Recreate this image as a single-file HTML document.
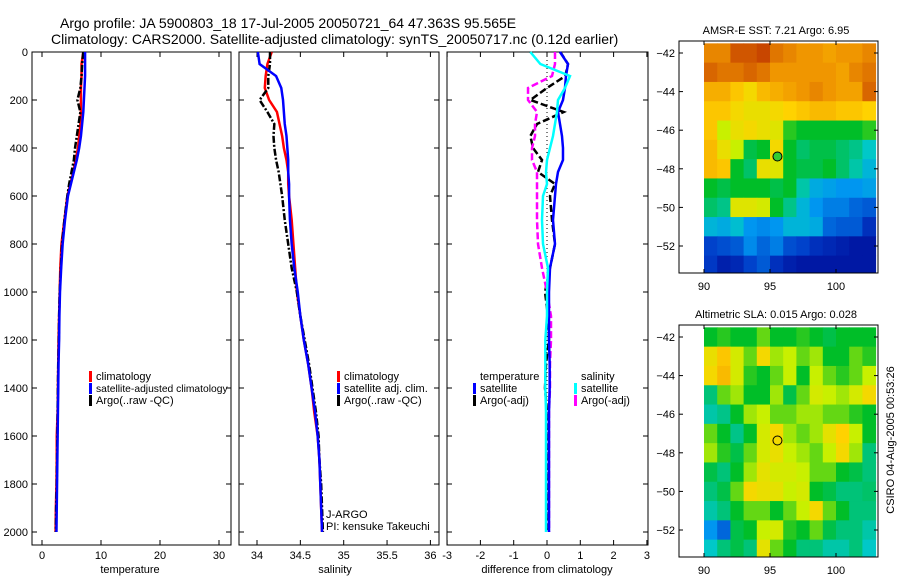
<!DOCTYPE html>
<html><head><meta charset="utf-8"><style>
body{margin:0;background:#fff;}
svg{display:block;font-family:"Liberation Sans",sans-serif;}
text{fill:#000;}
</style></head><body>
<svg id="fig" width="900" height="580" viewBox="0 0 900 580" xmlns="http://www.w3.org/2000/svg">
<text x="60" y="28" font-size="14">Argo profile: JA 5900803_18 17-Jul-2005 20050721_64 47.363S 95.565E</text>
<text x="51" y="44" font-size="14">Climatology: CARS2000. Satellite-adjusted climatology: synTS_20050717.nc (0.12d earlier)</text>
<g id="layer"></g>
<text transform="translate(894,440) rotate(-90)" text-anchor="middle" font-size="11">CSIRO 04-Aug-2005 00:53:26</text>
</svg>
<script>
const depths=[0,50,100,150,200,250,300,350,400,450,500,550,600,700,800,900,1000,1100,1200,1300,1400,1500,1600,1700,1800,1900,2000];
const tempClim=[7.0,6.7,6.7,6.6,6.6,6.6,6.5,6.3,6.1,5.7,5.3,4.8,4.3,3.8,3.3,3.1,3.0,2.9,2.8,2.75,2.7,2.65,2.5,2.5,2.45,2.35,2.3];
const tempSat=[7.3,7.3,7.3,7.2,7.1,7.0,6.8,6.6,6.3,5.9,5.4,4.9,4.4,3.9,3.5,3.25,3.05,2.95,2.9,2.8,2.75,2.7,2.65,2.6,2.55,2.5,2.45];
const tempArgo=[7.0,6.8,6.7,6.5,6.0,6.5,6.2,5.9,5.6,5.4,5.0,4.6,4.3,3.8,3.4,3.2,3.0,2.9,2.85,2.75,2.7,2.65,2.6,2.55,2.5,2.4,2.35];
const salClim=[34.17,34.12,34.1,34.09,34.14,34.23,34.26,34.29,34.31,34.34,34.36,34.36,34.37,34.40,34.42,34.44,34.46,34.50,34.54,34.59,34.63,34.66,34.70,34.72,34.73,34.74,34.75];
const salSat=[34.01,34.03,34.22,34.28,34.3,34.31,34.32,34.34,34.35,34.36,34.36,34.37,34.37,34.38,34.40,34.43,34.47,34.50,34.54,34.59,34.63,34.67,34.70,34.72,34.73,34.74,34.75];
const salArgo=[34.15,34.15,34.13,34.13,34.03,34.12,34.2,34.19,34.2,34.22,34.25,34.27,34.29,34.32,34.36,34.40,34.46,34.5,34.55,34.6,34.64,34.68,34.71,34.72,34.74,34.75,34.76];
const diffTempSat=[0.39,0.63,0.57,0.54,0.48,0.33,0.39,0.45,0.48,0.48,0.33,0.27,0.24,0.18,0.24,0.09,0.06,0.06,0.06,0.08,0.08,0.06,0.06,0.06,0.06,0.06,0.06];
const diffTempArgo=[0.4,0.63,0.55,0.0,-0.5,0.5,-0.3,-0.5,-0.42,-0.15,-0.27,0.24,0.09,0.15,0.24,0.09,-0.06,0.03,0.06,-0.03,-0.06,0,0,0,0,0,0];
const diffSalSat=[-0.5,-0.2,0.69,0.54,0.33,0.3,0.24,0.18,0.09,0,-0.03,0,-0.12,-0.15,-0.12,0.03,0.0,0.0,-0.05,-0.05,-0.05,-0.03,-0.03,-0.03,-0.03,-0.03,-0.03];
const diffSalArgo=[0.24,0.24,0.15,-0.57,-0.57,-0.3,-0.36,-0.36,-0.45,-0.45,-0.3,-0.3,-0.3,-0.3,-0.27,-0.15,0.0,0.12,0.12,0.09,0.09,0.06,0.06,0.06,0.06,0.06,0.06];
const depthTicks=[0,200,400,600,800,1000,1200,1400,1600,1800,2000];
const tempTicks=[0,10,20,30];
const salTicks=[34,34.5,35,35.5,36];
const diffTicks=[-3,-2,-1,0,1,2,3];
const lonTicks=[90,95,100];
const latTicks=[-42,-44,-46,-48,-50,-52];
const mapLons=[90,91,92,93,94,95,96,97,98,99,100,101,102];
const mapLats=[-41.5,-42.5,-43.5,-44.5,-45.5,-46.5,-47.5,-48.5,-49.5,-50.5,-51.5,-52.5];
const sstGrid=[
[.82,.82,.88,.88,.9,.84,.82,.8,.8,.78,.8,.8,.82],
[.86,.84,.84,.86,.84,.8,.8,.8,.8,.8,.78,.82,.84],
[.76,.76,.72,.68,.74,.76,.78,.8,.82,.8,.78,.78,.86],
[.72,.72,.68,.66,.66,.68,.7,.72,.74,.74,.72,.72,.7],
[.72,.6,.66,.68,.66,.64,.52,.5,.5,.5,.5,.5,.52],
[.74,.66,.6,.48,.5,.68,.5,.46,.48,.48,.46,.44,.4],
[.74,.72,.5,.46,.66,.64,.5,.48,.48,.5,.46,.42,.36],
[.5,.48,.5,.5,.5,.48,.5,.42,.34,.32,.3,.3,.32],
[.46,.44,.64,.64,.62,.5,.44,.36,.3,.26,.26,.22,.2],
[.36,.34,.38,.3,.28,.3,.36,.36,.34,.22,.2,.2,.12],
[.16,.18,.2,.28,.22,.26,.18,.16,.12,.1,.08,.06,.06],
[.14,.08,.1,.16,.2,.12,.08,.06,.06,.06,.06,.06,.06]];
const slaGrid=[
[.5,.52,.5,.5,.55,.5,.5,.52,.5,.48,.5,.5,.5],
[.66,.72,.62,.55,.68,.58,.6,.55,.58,.5,.5,.55,.52],
[.68,.74,.62,.52,.5,.55,.6,.5,.6,.55,.52,.55,.6],
[.45,.55,.58,.5,.5,.58,.48,.55,.62,.6,.58,.62,.68],
[.42,.44,.5,.58,.6,.55,.55,.58,.58,.55,.55,.52,.5],
[.55,.5,.44,.5,.62,.68,.58,.55,.58,.65,.7,.6,.5],
[.58,.52,.48,.55,.62,.66,.6,.58,.55,.6,.68,.58,.45],
[.48,.45,.5,.58,.65,.62,.62,.6,.55,.55,.5,.48,.45],
[.45,.48,.55,.68,.66,.65,.6,.62,.5,.48,.45,.45,.46],
[.42,.45,.5,.55,.55,.5,.55,.6,.68,.55,.5,.45,.45],
[.3,.22,.48,.5,.6,.62,.52,.5,.55,.48,.45,.45,.42],
[.4,.45,.48,.45,.65,.55,.5,.45,.45,.42,.42,.45,.4]];
const argoLon=95.565, argoLat=-47.363;

const NS='http://www.w3.org/2000/svg';
const layer=document.getElementById('layer');
function el(tag,attrs,parent){const e=document.createElementNS(NS,tag);for(const k in attrs)e.setAttribute(k,attrs[k]);(parent||layer).appendChild(e);return e;}
function txt(x,y,s,attrs){const t=el('text',Object.assign({x:x,y:y,'font-size':11},attrs||{}));t.textContent=s;return t;}
const yD=d=>52+d*0.24;
const xT=v=>42+v*5.9;
const xS=v=>257+(v-34)*86.7;
const xDf=v=>547+v*33.3;

function panel(x0,x1,name){
  const r=el('rect',{x:x0,y:52,width:x1-x0,height:493,fill:'none',stroke:'#000','stroke-width':1});
  
  
  depthTicks.forEach(d=>{el('line',{x1:x0,x2:x0+5,y1:yD(d),y2:yD(d),stroke:'#000'});el('line',{x1:x1-5,x2:x1,y1:yD(d),y2:yD(d),stroke:'#000'});});
}
function xticks(ticks,fx){
  ticks.forEach(t=>{const x=fx(t);el('line',{x1:x,x2:x,y1:52,y2:57,stroke:'#000'});el('line',{x1:x,x2:x,y1:540,y2:545,stroke:'#000'});
    const l=txt(x,559,String(t),{'text-anchor':'middle'});
    
    });
}
function line(vals,fx,color,dash,name,w){
  const p=el('polyline',{points:vals.map((v,i)=>fx(v)+','+yD(depths[i])).join(' '),fill:'none',stroke:color,'stroke-width':w||2.5});
  if(dash)p.setAttribute('stroke-dasharray',dash);
  
  
}
function legend(x,y,color,label,name,fs){
  if(color){el('rect',{x:x,y:y-9,width:3,height:11,fill:color});}
  const t=txt(x+7,y,label,{'font-size':fs||11});
  
  
}

panel(32,231,'temperature-panel');
depthTicks.forEach(d=>{const l=txt(28,yD(d)+4,String(d),{'text-anchor':'end'});
  
  });
xticks(tempTicks,xT);
line(tempClim,xT,'#f00',null,'temp-climatology-line');
line(tempArgo,xT,'#000','7,2,2,2','temp-argo-line');
line(tempSat,xT,'#00f',null,'temp-satellite-line');
legend(89,380,'#f00','climatology','legend-climatology');
legend(89,392,'#00f','satellite-adjusted climatology','legend-satellite-adjusted',10.3);
legend(89,404,'#000','Argo(..raw -QC)','legend-argo');
let t=txt(130,573,'temperature',{'text-anchor':'middle'});

panel(239,439,'salinity-panel');
xticks(salTicks,xS);
line(salClim,xS,'#f00',null,'sal-climatology-line');
line(salArgo,xS,'#000','7,2,2,2','sal-argo-line');
line(salSat,xS,'#00f',null,'sal-satellite-line');
legend(337,380,'#f00','climatology','legend-sal-climatology');
legend(337,392,'#00f','satellite adj. clim.','legend-sal-satellite');
legend(337,404,'#000','Argo(..raw -QC)','legend-sal-argo');
t=txt(326,518,'J-ARGO');
t=txt(326,530,'PI: kensuke Takeuchi');
t=txt(335,573,'salinity',{'text-anchor':'middle'});

panel(447,648,'difference-panel');
xticks(diffTicks,xDf);
el('line',{x1:xDf(0),x2:xDf(0),y1:52,y2:yD(2000),stroke:'#000','stroke-width':1,'stroke-dasharray':'1,3'});
line(diffTempArgo,xDf,'#000','7,3','diff-temp-argo-line');
line(diffSalArgo,xDf,'#f0f','7,3','diff-sal-argo-line');
line(diffTempSat,xDf,'#00f',null,'diff-temp-satellite-line');
line(diffSalSat,xDf,'#0ff',null,'diff-sal-satellite-line');
legend(473,380,null,'temperature','legend-temperature-header');
legend(473,392,'#00f','satellite','legend-temp-satellite');
legend(473,404,'#000','Argo(-adj)','legend-temp-argo');
legend(574,380,null,'salinity','legend-salinity-header');
legend(574,392,'#0ff','satellite','legend-sal-sat');
legend(574,404,'#f0f','Argo(-adj)','legend-sal-argo-adj');
t=txt(547,573,'difference from climatology',{'text-anchor':'middle'});

const cmapStops=[[0,0,0,140],[0.15,0,60,200],[0.3,0,150,240],[0.4,0,200,200],[0.5,0,190,40],[0.6,200,240,0],[0.7,255,210,0],[0.8,240,150,0],[0.9,200,70,0],[1,150,0,0]];
function cmap(v){
  v=Math.max(0,Math.min(1,v));
  for(let i=1;i<cmapStops.length;i++){const a=cmapStops[i-1],b=cmapStops[i];
    if(v<=b[0]){const f=(v-a[0])/(b[0]-a[0]);return 'rgb('+[1,2,3].map(k=>Math.round(a[k]+(b[k]-a[k])*f)).join(',')+')';}}
  return 'rgb(150,0,0)';
}
function map(top,grid,title,name,fillCircle){
  const xL=v=>704+(v-90)*13.2;
  const yL=v=>top+12+(-42-v)*19.3;
  const g=el('g',{});
  
  
  const cw=13.2;
  grid.forEach((row,i)=>row.forEach((v,j)=>{
    const x=xL(mapLons[j]), y=Math.max(top,yL(mapLats[i]));
    const y2=Math.min(top+232,yL(mapLats[i]-1));
    const w=Math.min(cw,878-x);
    const c=el('rect',{x:x,y:y,width:w+0.5,height:y2-y+0.5,fill:cmap(v)},g);
    
    
  }));
  el('rect',{x:679,y:top,width:199,height:232,fill:'none',stroke:'#000'});
  lonTicks.forEach(l=>{const x=xL(l);el('line',{x1:x,x2:x,y1:top,y2:top+4,stroke:'#000'});el('line',{x1:x,x2:x,y1:top+228,y2:top+232,stroke:'#000'});
    const tl=txt(x,top+249,String(l),{'text-anchor':'middle'});});
  latTicks.forEach(l=>{const y=yL(l);el('line',{x1:679,x2:683,y1:y,y2:y,stroke:'#000'});el('line',{x1:874,x2:878,y1:y,y2:y,stroke:'#000'});
    const tl=txt(675,y+4,String(l).replace('-','\u2212'),{'text-anchor':'end'});});
  const tt=txt(776,top-7,title,{'text-anchor':'middle'});
  const c=el('circle',{cx:xL(argoLon),cy:yL(argoLat),r:4.5,fill:fillCircle?'#3c3':'none',stroke:'#000','stroke-width':1});
  
  
}
map(41,sstGrid,'AMSR-E SST: 7.21 Argo: 6.95','sst-map',true);
map(325,slaGrid,'Altimetric SLA: 0.015 Argo: 0.028','sla-map',false);
</script>
</body></html>
